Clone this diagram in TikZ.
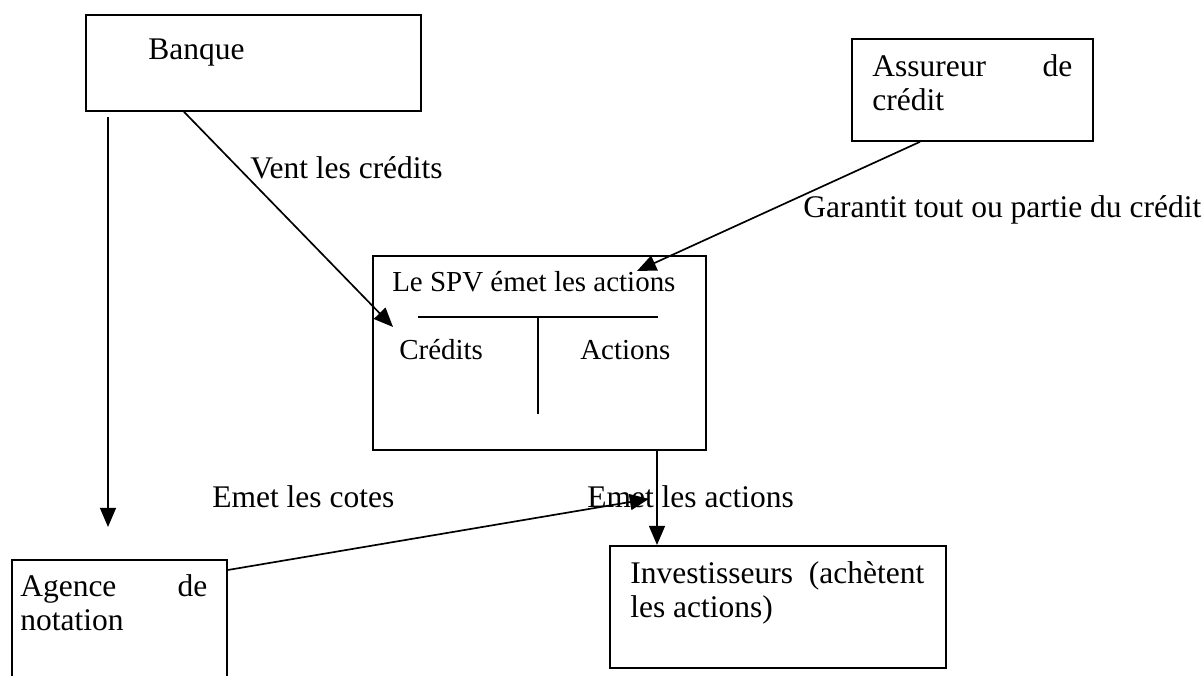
\documentclass[tikz,border=0pt]{standalone}
\usepackage{fontspec}
\setmainfont{Liberation Serif}
\usetikzlibrary{arrows.meta,calc}

\newcommand{\px}{0.025cm}

\begin{document}
\begin{tikzpicture}[x=\px,y=-\px,
  box/.style={draw,line width=1.3pt,anchor=north west,inner sep=0pt},
  txt/.style={inner sep=0pt,font=\fontsize{22.4}{24.2}\selectfont},
  small txt/.style={inner sep=0pt,font=\fontsize{20.6}{23}\selectfont},
  link/.style={line width=1.2pt,-{Triangle[length=0.48cm,width=0.4cm]}}]

  \useasboundingbox (0,0) rectangle (1202,676);

  % boxes
  \node[box,minimum width=335*\px,minimum height=96*\px] (banque) at (85,14) {};
  \node[box,minimum width=241*\px,minimum height=102*\px] (assureur) at (851,38) {};
  \node[box,minimum width=333*\px,minimum height=194*\px] (spv) at (372,255) {};
  \node[box,minimum width=215*\px,minimum height=145*\px] (agence) at (11,559) {};
  \node[box,minimum width=336*\px,minimum height=122*\px] (invest) at (609,545) {};

  % box texts
  \node[txt,anchor=base west] (banquet) at (148,60) {Banque};
  \node[txt,anchor=north west,text width=200*\px,align=justify] (assureurt) at (872,54) {Assureur\hfill de\\crédit};
  \node[small txt,anchor=base west] (spvt) at (392,291.5) {Le SPV émet les actions};
  \node[small txt,anchor=base west] (credits) at (399,359.5) {Crédits};
  \node[small txt,anchor=base west] (actions) at (580,359.5) {Actions};
  \node[txt,anchor=north west,text width=187*\px,align=justify] (agencet) at (20,574) {Agence\hfill de\\notation};
  \node[txt,anchor=north west,text width=294*\px,align=justify] (investt) at (630,561) {Investisseurs\hfill (achètent\\les actions)};

  % inner table of the SPV
  \draw[line width=1.2pt] ($(spv.north west)+(46,62)$) -- ($(spv.north west)+(286,62)$);
  \draw[line width=1.2pt] ($(spv.north west)+(166,62)$) -- ($(spv.north west)+(166,159)$);

  % labels
  \node[txt,anchor=base west] (vent) at (250,179) {Vent les crédits};
  \node[txt,anchor=base west] (garantit) at (803,217) {Garantit tout ou partie du crédit};
  \node[txt,anchor=base west] (cotes) at (212,507) {Emet les cotes};
  \node[txt,anchor=base west] (emet) at (587,507) {Emet les actions};

  % flows
  \coordinate (spvout) at ($(spv.south west)+(285,0)$);
  \coordinate (rating) at ($(spv.south west)+(277,48)$);
  \draw[link] ($(banque.south west)+(23,5)$) -- ($(agence.north west)+(97,-32)$);
  \draw[link] ($(banque.south west)+(99,0)$) -- ($(spv.north west)+(21,72)$);
  \draw[link] ($(assureur.south west)+(69,0)$) -- ($(spv.north west)+(265,16)$);
  \draw[link] (spvout) -- (spvout |- invest.north);
  \draw[link] ($(agence.north east)+(0,11)$) -- (rating);
\end{tikzpicture}
\end{document}
